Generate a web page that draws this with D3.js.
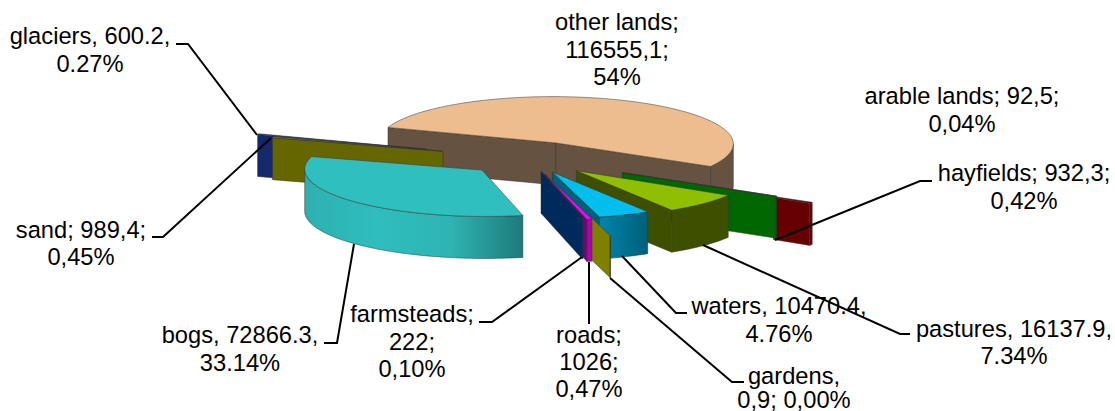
<!DOCTYPE html>
<html>
<head>
<meta charset="utf-8">
<script src="https://cdn.jsdelivr.net/npm/d3@7"></script>
<style>
  html, body { margin: 0; background: #fff; }
  svg { display: block; }
  text { font-family: "Liberation Sans", Arial, sans-serif; font-size: 23.7px; fill: #000; }
</style>
</head>
<body>
<div id="chart"></div>
<script>
// Data, in pie order (clockwise)
const names = ['other lands', 'arable lands', 'hayfields', 'pastures', 'waters', 'gardens',
  'roads', 'farmsteads', 'bogs', 'sand', 'glaciers']
const values = [116555.1, 92.5, 932.3, 16137.9, 10470.4, 0.9, 1026, 222, 72866.3, 989.4, 600.2]
const labelLines = [
  ['other lands;', '116555,1;', '54%'],
  ['arable lands; 92,5;', '0,04%'],
  ['hayfields; 932,3;', '0,42%'],
  ['pastures, 16137.9,', '7.34%'],
  ['waters, 10470.4,', '4.76%'],
  ['gardens,', '0,9; 0,00%'],
  ['roads;', '1026;', '0,47%'],
  ['farmsteads;', '222;', '0,10%'],
  ['bogs, 72866.3,', '33.14%'],
  ['sand; 989,4;', '0,45%'],
  ['glaciers, 600.2,', '0.27%']
]
// How far each slice is pulled out of the pie, as a share of the radius
const explosion = [0.37, 0.6, 0.84, 0.37, 0.32, 0.72, 0.35, 0.28, 0.37, 0.51, 0.61]

// Slice colours: top face, radial wall, rim wall (stops run left to right)
const topColors = ['#eebd8f', '#008000', '#800000', '#8fbf00', '#00bfef', '#808000',
  '#ff00ff', '#003366', '#2fbfbf', '#808000', '#1f3f8f']
const wallColors = ['#655240', '#006600', '#660000', '#3f4f00', '#005f7a', '#808000',
  '#7a007a', '#002a5c', '#1f8080', '#666600', '#14286b']
const rimColors = [['#655240', '#655240'], ['#006600', '#006600'], ['#660000', '#660000'],
  ['#3f4f00', '#3f4f00'], ['#0085ad', '#005f78'], ['#808000', '#808000'],
  ['#b000b0', '#b000b0'], ['#002a5c', '#002a5c'], ['#2fb0b0', '#2fbdbd', '#2fb4b4', '#1f7a7a'],
  ['#666600', '#666600'], ['#14286b', '#14286b']]

// Painted back to front
const drawOrder = [0, 10, 9, 2, 1, 3, 4, 5, 8, 6, 7]

// Label placement and leader lines, page pixels
const labelLayout = [
  { x: 617, y: 30, dy: [0, 28, 55], leader: null },
  { x: 962, y: 104, dy: [0, 28], leader: null },
  { x: 1024, y: 181, dy: [0, 28], leader: [[775, 240], [920, 181], [932, 181]] },
  { x: 1014, y: 337, dy: [0, 27], leader: [[703, 245], [900, 334], [910, 334]] },
  { x: 779, y: 314, dy: [0, 28], leader: [[622, 256], [676, 313], [687, 313]] },
  { x: 794, y: 384, dy: [0, 24], leader: [[610, 278], [732, 382], [744, 382]] },
  { x: 589, y: 343, dy: [0, 27, 54], leader: [[589, 262], [589, 324]] },
  { x: 412, y: 322, dy: [0, 28, 55], leader: [[582, 257], [492, 322], [479, 322]] },
  { x: 240, y: 343, dy: [0, 28], leader: [[354, 244], [337, 343], [324, 343]] },
  { x: 81, y: 238, dy: [0, 27], leader: [[271, 138], [163, 237], [152, 237]] },
  { x: 90, y: 44, dy: [0, 28], leader: [[257, 135], [188, 44], [176, 44]] }
]

const width = 1115
const height = 411
const svg = d3.select('#chart').append('svg').attr('width', width).attr('height', height)
const defs = svg.append('defs')

// Oblique view of the pie: where the unit disk's axes land on the page
const center = [529.4, 158.5]
const axisU = [162, 19.6]
const axisV = [-72, 42]
const depth = 42
// Rim wall shows between the two silhouette angles of the ellipse
const rimFrom = Math.atan2(axisU[0], -axisV[0])
const rimTo = rimFrom + Math.PI

const project = (r, a) => {
  let lx = r * Math.sin(a)
  let ly = -r * Math.cos(a)
  return [lx * axisU[0] + ly * axisV[0], lx * axisU[1] + ly * axisV[1]]
}

const startAngle = -95.4 * Math.PI / 180
const pie = d3.pie().value(d => d).sort(null)
  .startAngle(startAngle).endAngle(startAngle + 2 * Math.PI)
const arcs = pie(values)
const line = d3.line()
const closed = pts => line(pts) + 'Z'
const down = p => [p[0], p[1] + depth]
const edge = '#333'

// Only the outer part of these walls shows in the picture, the rest sits behind neighbours
const wallFrom = d3.scaleOrdinal().domain(['gardens', 'hayfields']).range([0.6, 0.76]).unknown(0)

const face = (pts, fill) => svg.append('path')
  .attr('d', closed(pts))
  .attr('fill', fill)
  .attr('stroke', edge)
  .attr('stroke-width', 0.5)
  .attr('stroke-linejoin', 'round')

drawOrder.forEach(i => {
  let d = arcs[i]
  let mid = (d.startAngle + d.endAngle) / 2
  let off = project(explosion[i], mid)
  let apex = [center[0] + off[0], center[1] + off[1]]
  let at = (r, a) => {
    let p = project(r, a)
    return [apex[0] + p[0], apex[1] + p[1]]
  }
  let rimPts = (a0, a1) => {
    let n = Math.max(2, Math.ceil(Math.abs(a1 - a0) / 0.03))
    return d3.range(n + 1).map(k => at(1, a0 + (a1 - a0) * k / n))
  }

  // Radial walls facing the viewer
  let radial = a => {
    let inner = at(wallFrom(names[i]), a)
    let outer = at(1, a)
    face([inner, outer, down(outer), down(inner)], wallColors[i])
  }
  if (Math.sin(d.startAngle) < 0) radial(d.startAngle)
  if (Math.sin(d.endAngle) > 0) radial(d.endAngle)

  // Curved outer wall
  let a0 = Math.max(d.startAngle, rimFrom)
  let a1 = Math.min(d.endAngle, rimTo)
  if (a1 > a0) {
    let pts = rimPts(a0, a1)
    let xs = d3.extent(pts, p => p[0])
    let id = 'rim' + i
    let grad = defs.append('linearGradient').attr('id', id)
      .attr('gradientUnits', 'userSpaceOnUse')
      .attr('x1', xs[0]).attr('x2', xs[1]).attr('y1', 0).attr('y2', 0)
    let stops = rimColors[i]
    stops.forEach((c, k) => {
      grad.append('stop').attr('offset', k / (stops.length - 1)).attr('stop-color', c)
    })
    face(pts.concat(pts.map(down).reverse()), 'url(#' + id + ')')
  }

  // Top face
  if (names[i] !== 'gardens') {
    face([apex].concat(rimPts(d.startAngle, d.endAngle)), topColors[i])
  }
})

// Leader lines
labelLayout.filter(l => l.leader).forEach(l => {
  svg.append('path')
    .attr('d', line(l.leader))
    .attr('fill', 'none')
    .attr('stroke', '#000')
    .attr('stroke-width', 2)
})

// Data labels
labelLines.forEach((lines, i) => {
  let l = labelLayout[i]
  svg.append('text')
    .attr('text-anchor', 'middle')
    .selectAll('tspan')
    .data(lines)
    .join('tspan')
    .attr('x', l.x)
    .attr('y', (t, k) => l.y + l.dy[k])
    .text(t => t)
})
</script>
</body>
</html>
